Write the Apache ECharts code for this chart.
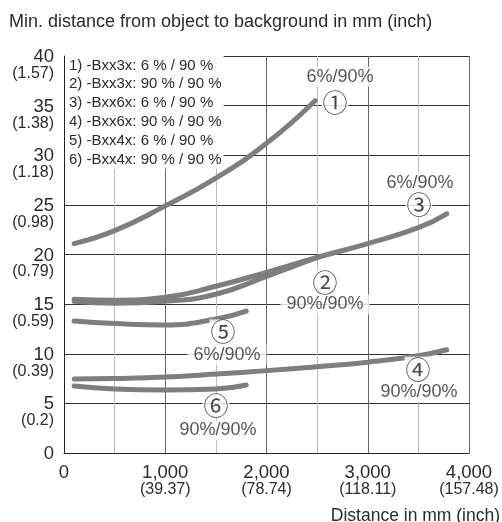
<!DOCTYPE html>
<html><head><meta charset="utf-8">
<script src="https://cdn.jsdelivr.net/npm/echarts@6/dist/echarts.min.js"></script>
<style>html,body{margin:0;padding:0;background:#fff}#c{width:502px;height:522px}</style>
</head><body><div id="c"></div>
<script>
// ---- data ----
const titleText = 'Min. distance from object to background in mm (inch)';
const xAxisName = 'Distance in mm (inch)';
const xTickValues = [0, 1000, 2000, 3000, 4000];
const xTickLabels = ['0', '1,000', '2,000', '3,000', '4,000'];
const xTickInch = ['', '(39.37)', '(78.74)', '(118.11)', '(157.48)'];
const yTickValues = [0, 5, 10, 15, 20, 25, 30, 35, 40];
const yTickInch = ['', '(0.2)', '(0.39)', '(0.59)', '(0.79)', '(0.98)', '(1.18)', '(1.38)', '(1.57)'];

const legendLines = [
  '1) -Bxx3x: 6 % / 90 %',
  '2) -Bxx3x: 90 % / 90 %',
  '3) -Bxx6x: 6 % / 90 %',
  '4) -Bxx6x: 90 % / 90 %',
  '5) -Bxx4x: 6 % / 90 %',
  '6) -Bxx4x: 90 % / 90 %'
];

const c1X = [100, 500, 1000, 1500, 2000, 2480];
const c1Y = [21.1, 22.4, 24.9, 27.7, 31.2, 35.5];
const c2X = [100, 500, 1000, 1500, 2000, 2500];
const c2Y = [15.3, 15.1, 15.3, 16.0, 17.8, 19.7];
const c3X = [100, 500, 1000, 1500, 2000, 2500, 3000, 3500, 3780];
const c3Y = [15.5, 15.4, 15.7, 16.8, 18.2, 19.7, 21.1, 22.7, 24.1];
const c4X = [100, 500, 1000, 1500, 2000, 2500, 3000, 3500, 3780];
const c4Y = [7.45, 7.5, 7.65, 7.95, 8.3, 8.7, 9.15, 9.8, 10.4];
const c5X = [100, 500, 1000, 1500, 1800];
const c5Y = [13.3, 13.05, 12.9, 13.5, 14.3];
const c6X = [100, 500, 1000, 1500, 1800];
const c6Y = [6.75, 6.45, 6.35, 6.45, 6.85];

const circleX = [2677, 2578, 3506, 3496, 1570, 1501];
const circleY = [35.3, 17.2, 25.0, 8.45, 12.2, 4.75];
const circleText = ['①', '②', '③', '④', '⑤', '⑥'];
const ratioX = [2726, 2578, 3516, 3506, 1610, 1521];
const ratioY = [37.9, 15.0, 27.2, 6.15, 9.9, 2.3];
const ratioText = ['6%/90%', '90%/90%', '6%/90%', '90%/90%', '6%/90%', '90%/90%'];

// ---- build ----
const FONT = '"Liberation Sans", Arial, sans-serif';
const TXT = '#2b2b2b';
const zip = (xs, ys) => xs.map((x, i) => [x, ys[i]]);
const curves = [zip(c1X, c1Y), zip(c2X, c2Y), zip(c3X, c3Y), zip(c4X, c4Y), zip(c5X, c5Y), zip(c6X, c6Y)];

const lineSeries = curves.map((d, i) => ({
  type: 'line', name: 'c' + (i + 1), data: d, smooth: 0.5, showSymbol: false, silent: true,
  lineStyle: { width: 5, color: '#7e7e81', cap: 'round', join: 'round' }, z: 3
}));

const chart = echarts.init(document.getElementById('c'), null, { renderer: 'canvas' });
chart.setOption({
  animation: false,
  backgroundColor: '#fff',
  title: {
    text: titleText, left: 4, top: 8,
    textStyle: { fontFamily: FONT, fontSize: 18, fontWeight: 'normal', color: TXT }
  },
  grid: { left: 64, right: 33, top: 56, bottom: 69, containLabel: false },
  xAxis: {
    type: 'value', min: 0, max: 4000, interval: 1000,
    axisLine: { show: true, lineStyle: { color: '#222', width: 1 } },
    axisTick: { show: false },
    splitLine: { show: true, lineStyle: { color: '#666', width: 1 } },
    minorTick: { show: false, splitNumber: 2 },
    minorSplitLine: { show: true, lineStyle: { color: '#bdbdbd', width: 1 } },
    axisLabel: {
      margin: 11, verticalAlign: 'top', color: TXT,
      formatter: (v) => {
        const i = xTickValues.indexOf(v);
        return '{a|' + xTickLabels[i] + '}' + (xTickInch[i] ? '\n{b|' + xTickInch[i] + '}' : '');
      },
      rich: {
        a: { fontFamily: FONT, fontSize: 18.5, lineHeight: 18, color: TXT },
        b: { fontFamily: FONT, fontSize: 16, lineHeight: 16, color: TXT }
      }
    }
  },
  yAxis: {
    type: 'value', min: 0, max: 40, interval: 5,
    axisLine: { show: true, lineStyle: { color: '#222', width: 1 } },
    axisTick: { show: false },
    splitLine: { show: true, lineStyle: { color: '#333', width: 1 } },
    axisLabel: {
      margin: 10, align: 'right', color: TXT,
      formatter: (v) => {
        const i = yTickValues.indexOf(v);
        return '{s| }\n{a|' + v + '}\n{b|' + (yTickInch[i] || ' ') + '}';
      },
      rich: {
        s: { fontSize: 10, lineHeight: 19 },
        a: { fontFamily: FONT, fontSize: 18.5, lineHeight: 16, color: TXT, align: 'right' },
        b: { fontFamily: FONT, fontSize: 16, lineHeight: 17, color: TXT, align: 'right' }
      }
    }
  },
  graphic: [
    {
      type: 'text', left: 65, top: 56, z: 10,
      style: {
        text: legendLines.join('\n'), fontFamily: FONT, fontSize: 15, lineHeight: 18.8,
        fill: TXT, backgroundColor: '#fff', padding: [0, 2, 0, 4]
      }
    },
    {
      type: 'text', right: 2, top: 507, z: 10,
      style: { text: xAxisName, fontFamily: FONT, fontSize: 17.5, fill: TXT }
    }
  ],
  series: lineSeries.concat([
    {
      type: 'scatter', symbolSize: 0, silent: true, z: 5,
      data: ratioX.map((x, i) => [x, ratioY[i], ratioText[i]]),
      label: {
        show: true, position: 'inside', formatter: (p) => p.data[2],
        fontFamily: FONT, fontSize: 18, color: TXT, backgroundColor: '#fff', padding: [1, 6, 1, 6]
      }
    },
    {
      type: 'scatter', symbolSize: 0, silent: true, z: 5,
      data: circleX.map((x, i) => [x, circleY[i], circleText[i]]),
      label: {
        show: true, position: 'inside', formatter: (p) => p.data[2],
        fontFamily: '"Noto Sans CJK JP", "DejaVu Sans", sans-serif', fontSize: 25, color: '#1a1a1a',
        backgroundColor: '#fff', padding: [0, 1, 0, 1]
      }
    }
  ])
});
</script>
</body></html>
